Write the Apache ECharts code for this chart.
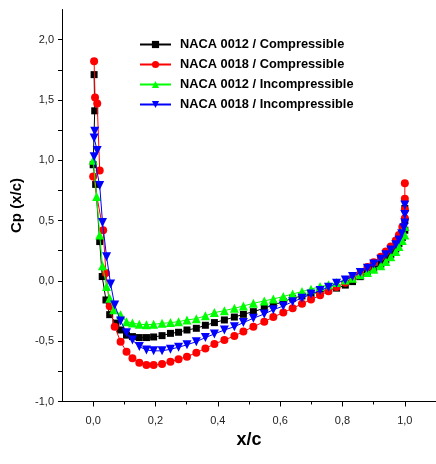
<!DOCTYPE html>
<html><head><meta charset="utf-8">
<script src="https://cdn.jsdelivr.net/npm/echarts@6/dist/echarts.min.js"></script>
<style>html,body{margin:0;padding:0;background:#fff}#c{width:436px;height:464px}</style>
</head><body><div id="c"></div>
<script>
// Series names
const seriesNames = ['NACA 0012 / Compressible','NACA 0018 / Compressible','NACA 0012 / Incompressible','NACA 0018 / Incompressible'];
// Tick labels
const xTickLabels = [0, 0.2, 0.4, 0.6, 0.8, 1.0];
const xMinorTicks = [0.1, 0.3, 0.5, 0.7, 0.9];
const yTickLabels = [-1, -0.5, 0, 0.5, 1.0, 1.5, 2.0];
const yAllTicks = [-1,-0.75,-0.5,-0.25,0,0.25,0.5,0.75,1,1.25,1.5,1.75,2];

// NACA 0012 / Compressible
const xBlackComp = [0.003,0.005,0.0,0.008,0.021,0.029,0.041,0.053,0.073,0.088,0.107,0.126,0.148,0.171,0.194,0.221,0.248,0.274,0.301,0.331,0.36,0.389,0.421,0.453,0.482,0.514,0.549,0.578,0.61,0.64,0.67,0.699,0.728,0.755,0.781,0.809,0.832,0.857,0.88,0.90,0.923,0.939,0.955,0.971,0.981,0.992,1.0,1.0,1.0];
const cpBlackComp = [1.71,1.41,0.963,0.80,0.326,0.036,-0.158,-0.28,-0.35,-0.407,-0.45,-0.462,-0.47,-0.47,-0.465,-0.454,-0.435,-0.426,-0.407,-0.393,-0.368,-0.346,-0.324,-0.30,-0.277,-0.255,-0.227,-0.2,-0.172,-0.144,-0.125,-0.11,-0.09,-0.075,-0.06,-0.035,-0.006,0.035,0.065,0.1,0.14,0.175,0.22,0.265,0.31,0.36,0.42,0.5,0.6];

// NACA 0018 / Compressible
const xRedComp = [0.003,0.006,0.013,0.021,0.0,0.032,0.041,0.053,0.069,0.088,0.107,0.126,0.148,0.171,0.194,0.221,0.248,0.274,0.301,0.331,0.36,0.389,0.421,0.453,0.482,0.514,0.549,0.578,0.61,0.64,0.67,0.699,0.728,0.755,0.781,0.809,0.832,0.857,0.88,0.90,0.923,0.939,0.955,0.971,0.981,0.992,1.0,1.0,1.0,1.0];
const cpRedComp = [1.82,1.52,1.47,0.916,0.866,0.42,0.066,-0.21,-0.38,-0.504,-0.587,-0.642,-0.678,-0.698,-0.698,-0.69,-0.67,-0.65,-0.628,-0.595,-0.56,-0.523,-0.49,-0.457,-0.42,-0.38,-0.338,-0.30,-0.263,-0.227,-0.19,-0.155,-0.12,-0.085,-0.05,-0.015,0.02,0.06,0.115,0.155,0.2,0.243,0.285,0.335,0.38,0.446,0.52,0.59,0.68,0.81];

// NACA 0012 / Incompressible
const xGreenInc = [0.0,0.011,0.021,0.03,0.043,0.053,0.066,0.088,0.107,0.126,0.148,0.171,0.194,0.221,0.248,0.274,0.301,0.331,0.36,0.389,0.421,0.453,0.482,0.514,0.549,0.578,0.61,0.64,0.67,0.699,0.728,0.755,0.781,0.809,0.832,0.857,0.88,0.90,0.923,0.939,0.955,0.971,0.981,0.992,1.0,1.0];
const cpGreenInc = [1.0,0.70,0.38,0.125,-0.047,-0.144,-0.24,-0.28,-0.338,-0.35,-0.36,-0.363,-0.36,-0.352,-0.346,-0.338,-0.324,-0.313,-0.29,-0.263,-0.247,-0.227,-0.208,-0.186,-0.166,-0.15,-0.13,-0.108,-0.089,-0.069,-0.047,-0.033,-0.014,0.008,0.022,0.05,0.069,0.097,0.125,0.16,0.2,0.243,0.285,0.335,0.38,0.45];

// NACA 0018 / Incompressible
const xBlueInc = [0.005,0.003,0.013,0.003,0.021,0.03,0.043,0.056,0.069,0.088,0.107,0.126,0.148,0.171,0.194,0.221,0.248,0.274,0.301,0.331,0.36,0.389,0.421,0.453,0.482,0.514,0.549,0.578,0.61,0.64,0.67,0.699,0.728,0.755,0.781,0.809,0.832,0.857,0.88,0.90,0.923,0.939,0.955,0.971,0.981,0.99,0.997,1.0,1.0,1.0];
const cpBlueInc = [1.24,1.185,1.08,1.03,0.79,0.484,0.20,-0.025,-0.2,-0.332,-0.43,-0.49,-0.545,-0.573,-0.58,-0.58,-0.567,-0.55,-0.53,-0.504,-0.47,-0.44,-0.407,-0.38,-0.346,-0.31,-0.274,-0.24,-0.208,-0.172,-0.144,-0.108,-0.08,-0.052,-0.02,0.008,0.036,0.069,0.105,0.141,0.18,0.216,0.257,0.3,0.34,0.39,0.44,0.48,0.55,0.63];

const pairs = (xs, ys) => xs.map((x, i) => [x, ys[i]]);
const FONT = '"Liberation Sans", Arial, sans-serif';

const styles = [
  {color:'#000000', symbol:'rect', size:7, rotate:0},
  {color:'#ff0000', symbol:'circle', size:8, rotate:0},
  {color:'#00ff00', symbol:'triangle', size:9, rotate:0},
  {color:'#0000ff', symbol:'triangle', size:9, rotate:180}
];
const dataSets = [pairs(xBlackComp,cpBlackComp), pairs(xRedComp,cpRedComp), pairs(xGreenInc,cpGreenInc), pairs(xBlueInc,cpBlueInc)];

const chart = echarts.init(document.getElementById('c'), null, {renderer:'canvas'});
chart.setOption({
  animation:false,
  backgroundColor:'#ffffff',
  grid:{left:62, top:9.5, width:375, height:392},
  legend:{
    left:134, top:33, orient:'vertical', itemGap:7, itemWidth:31, itemHeight:9,
    data:seriesNames,
    textStyle:{fontFamily:FONT, fontSize:12.8, fontWeight:'bold', color:'#000', padding:[0,0,0,4]}
  },
  xAxis:[{
    type:'value', min:-0.1, max:1.1, interval:0.1,
    name:'x/c', nameLocation:'middle', nameGap:23,
    nameTextStyle:{fontFamily:FONT, fontSize:18, fontWeight:'bold', color:'#000'},
    axisLine:{show:true, onZero:false, lineStyle:{color:'#000', width:1}},
    axisTick:{show:true, inside:false, length:5, lineStyle:{color:'#000'}, customValues:xTickLabels},
    axisLabel:{show:true, margin:14, fontFamily:FONT, fontSize:11, color:'#222', customValues:xTickLabels,
      formatter:v => v.toFixed(1).replace('.', ',')},
    splitLine:{show:false}
  },{
    type:'value', min:-0.1, max:1.1, interval:0.1, position:'bottom',
    axisLine:{show:false, onZero:false},
    axisTick:{show:true, inside:false, length:3, lineStyle:{color:'#000'}, customValues:xMinorTicks},
    axisLabel:{show:false},
    splitLine:{show:false}
  }],
  yAxis:{
    type:'value', min:-1, max:2.25, interval:0.5,
    name:'Cp (x/c)', nameLocation:'middle', nameGap:38, nameRotate:90,
    nameTextStyle:{fontFamily:FONT, fontSize:15, fontWeight:'bold', color:'#000'},
    axisLine:{show:true, onZero:false, lineStyle:{color:'#000', width:1}},
    axisTick:{show:true, inside:false, length:4, lineStyle:{color:'#000'}, customValues:yAllTicks},
    axisLabel:{show:true, margin:8, fontFamily:FONT, fontSize:11, color:'#222', customValues:yTickLabels,
      formatter:v => v.toFixed(1).replace('.', ',')},
    splitLine:{show:false}
  },
  series: seriesNames.map((name, i) => ({
    name, type:'line', xAxisIndex:0, data:dataSets[i],
    symbol:styles[i].symbol, symbolSize:styles[i].size, symbolRotate:styles[i].rotate,
    showAllSymbol:true,
    lineStyle:{color:styles[i].color, width:1},
    itemStyle:{color:styles[i].color, borderWidth:0},
    z: 2 + i
  }))
});
</script></body></html>
